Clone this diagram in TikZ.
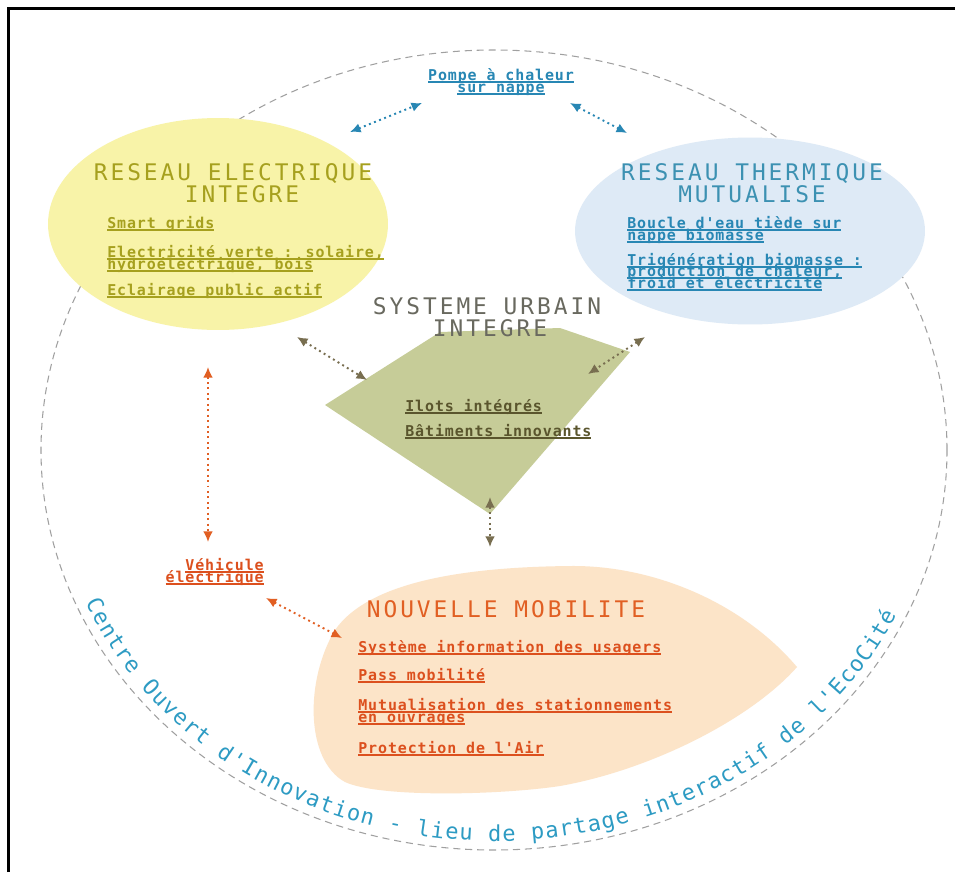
\documentclass[tikz,border=0pt]{standalone}
\usepackage{fontspec}
\usetikzlibrary{arrows.meta,shapes.geometric,decorations.text}
\newfontfamily\dmono[LetterSpace=13]{DejaVu Sans Mono}
\newfontfamily\imono[LetterSpace=6]{DejaVu Sans Mono}
\newfontfamily\amono{DejaVu Sans Mono}
\definecolor{yelfill}{RGB}{248,243,168}
\definecolor{yeltext}{RGB}{166,160,30}
\definecolor{bluefill}{RGB}{222,234,246}
\definecolor{bluetitle}{RGB}{60,145,178}
\definecolor{bluetext}{RGB}{40,135,180}
\definecolor{diafill}{RGB}{198,204,152}
\definecolor{diatitle}{RGB}{105,105,95}
\definecolor{diatext}{RGB}{90,85,45}
\definecolor{diaarrow}{RGB}{120,110,80}
\definecolor{orfill}{RGB}{252,228,200}
\definecolor{ortitle}{RGB}{225,95,35}
\definecolor{ortext}{RGB}{220,80,30}
\definecolor{arccol}{RGB}{45,155,195}
\definecolor{dashcol}{RGB}{160,160,160}
\newsavebox\ubox
\newcommand\U[1]{\sbox\ubox{#1}\rlap{\rule[-1.6pt]{\wd\ubox}{0.8pt}}\usebox\ubox}
\begin{document}
\begin{tikzpicture}[x=0.02cm,y=0.02cm,
  itm/.style={inner sep=0pt, anchor=base west, font=\imono\bfseries\fontsize{8.5}{9}\selectfont},
  itmr/.style={itm, anchor=base east},
  itmc/.style={itm, anchor=base},
  ttl/.style={inner sep=0pt, anchor=base, font=\dmono\fontsize{13}{15}\selectfont},
  dotarrow/.style={{Latex[length=6pt,width=5.5pt]}-{Latex[length=6pt,width=5.5pt]}, dotted, line width=1.1pt}
]
\useasboundingbox (0,0) rectangle (955,-872);
\fill[white] (0,0) rectangle (955,-872);
\draw[line width=1.7pt] (8.7,-872) -- (8.7,-8.7) -- (955,-8.7);

% outer dashed ellipse
\coordinate (ctr) at (494,-450);
\draw[dashcol, line width=0.6pt, dash pattern=on 4pt off 2.8pt] (ctr) ellipse [x radius=453, y radius=400];

% shapes
\node[ellipse, fill=yelfill, inner sep=0pt, minimum width=6.8cm, minimum height=4.24cm] (elec) at (218,-224) {};
\node[ellipse, fill=bluefill, inner sep=0pt, minimum width=7cm, minimum height=3.74cm] (therm) at (750,-231) {};
\fill[diafill] (325,-405) -- (440,-332) -- (560,-328) -- (630,-352) -- (490,-514) -- cycle;
\fill[orfill] (797,-667) .. controls (740,-600) and (650,-565) .. (570,-566)
  .. controls (470,-567) and (370,-580) .. (335,-630)
  .. controls (305,-680) and (305,-760) .. (345,-782)
  .. controls (380,-798) and (500,-795) .. (560,-786)
  .. controls (650,-770) and (750,-720) .. (797,-667) -- cycle;

% arc text
\path[decorate, decoration={text along path, text color=arccol,
  text={|\amono\fontsize{12.5}{13}\selectfont|Centre Ouvert d'Innovation - lieu de partage interactif de l'EcoCité},
  text align=fit to path}]
  (ctr) ++(203:444 and 391) arc[start angle=203, end angle=335, x radius=444, y radius=391];

% Pompe
\node[itmc, text=bluetext] (pompe1) at (501,-80) {\U{Pompe à chaleur}};
\node[itmc, text=bluetext] (pompe2) at (501,-92) {\U{sur nappe}};

% electric
\node[ttl, text=yeltext] (et1) at (233,-180) {RESEAU ELECTRIQUE};
\node[ttl, text=yeltext] (et2) at (242,-202) {INTEGRE};
\node[itm, text=yeltext] (e1) at (107,-228) {\U{Smart grids}};
\node[itm, text=yeltext] (e2a) at (107,-257) {\U{Electricité verte : solaire,}};
\node[itm, text=yeltext] (e2b) at (107,-269) {\U{hydroélectrique, bois}};
\node[itm, text=yeltext] (e3) at (107,-295) {\U{Eclairage public actif}};

% thermal
\node[ttl, text=bluetitle] (tt1) at (752,-180) {RESEAU THERMIQUE};
\node[ttl, text=bluetitle] (tt2) at (752,-202) {MUTUALISE};
\node[itm, text=bluetext] (t1a) at (627,-228) {\U{Boucle d'eau tiède sur}};
\node[itm, text=bluetext] (t1b) at (627,-240) {\U{nappe biomasse}};
\node[itm, text=bluetext] (t2a) at (627,-265) {\U{Trigénération biomasse :}};
\node[itm, text=bluetext] (t2b) at (627,-276) {\U{production de chaleur,}};
\node[itm, text=bluetext] (t2c) at (627,-288) {\U{froid et électricité}};

% urban system
\node[ttl, text=diatitle] (st1) at (487,-314) {SYSTEME URBAIN};
\node[ttl, text=diatitle] (st2) at (490,-336) {INTEGRE};
\node[itm, text=diatext] (s1) at (405,-411) {\U{Ilots intégrés}};
\node[itm, text=diatext] (s2) at (405,-436) {\U{Bâtiments innovants}};

% vehicle
\node[itmr, text=ortext] (v1) at (264,-570) {\U{Véhicule}};
\node[itmr, text=ortext] (v2) at (264,-582) {\U{électrique}};

% mobility
\node[ttl, text=ortitle] (mt) at (506,-617) {NOUVELLE MOBILITE};
\node[itm, text=ortext] (m1) at (358,-652) {\U{Système information des usagers}};
\node[itm, text=ortext] (m2) at (358,-680) {\U{Pass mobilité}};
\node[itm, text=ortext] (m3a) at (358,-710) {\U{Mutualisation des stationnements}};
\node[itm, text=ortext] (m3b) at (358,-722) {\U{en ouvrages}};
\node[itm, text=ortext] (m4) at (358,-753) {\U{Protection de l'Air}};

% arrow end points
\coordinate (pa1) at (350,-132); \coordinate (pa2) at (422,-103);
\coordinate (pb1) at (570,-103); \coordinate (pb2) at (627,-133);
\coordinate (da1) at (297,-337); \coordinate (da2) at (367,-380);
\coordinate (db1) at (645,-337); \coordinate (db2) at (588,-374);
\coordinate (dc1) at (490,-497); \coordinate (dc2) at (490,-547);
\coordinate (oa1) at (208,-367); \coordinate (oa2) at (208,-542);
\coordinate (ob1) at (266,-598); \coordinate (ob2) at (342,-638);

\draw[dotarrow, bluetext] (pa1) -- (pa2);
\draw[dotarrow, bluetext] (pb1) -- (pb2);
\draw[dotarrow, diaarrow] (da1) -- (da2);
\draw[dotarrow, diaarrow] (db1) -- (db2);
\draw[dotarrow, diaarrow] (dc1) -- (dc2);
\draw[dotarrow, ortitle] (oa1) -- (oa2);
\draw[dotarrow, ortitle] (ob1) -- (ob2);
\end{tikzpicture}
\end{document}
